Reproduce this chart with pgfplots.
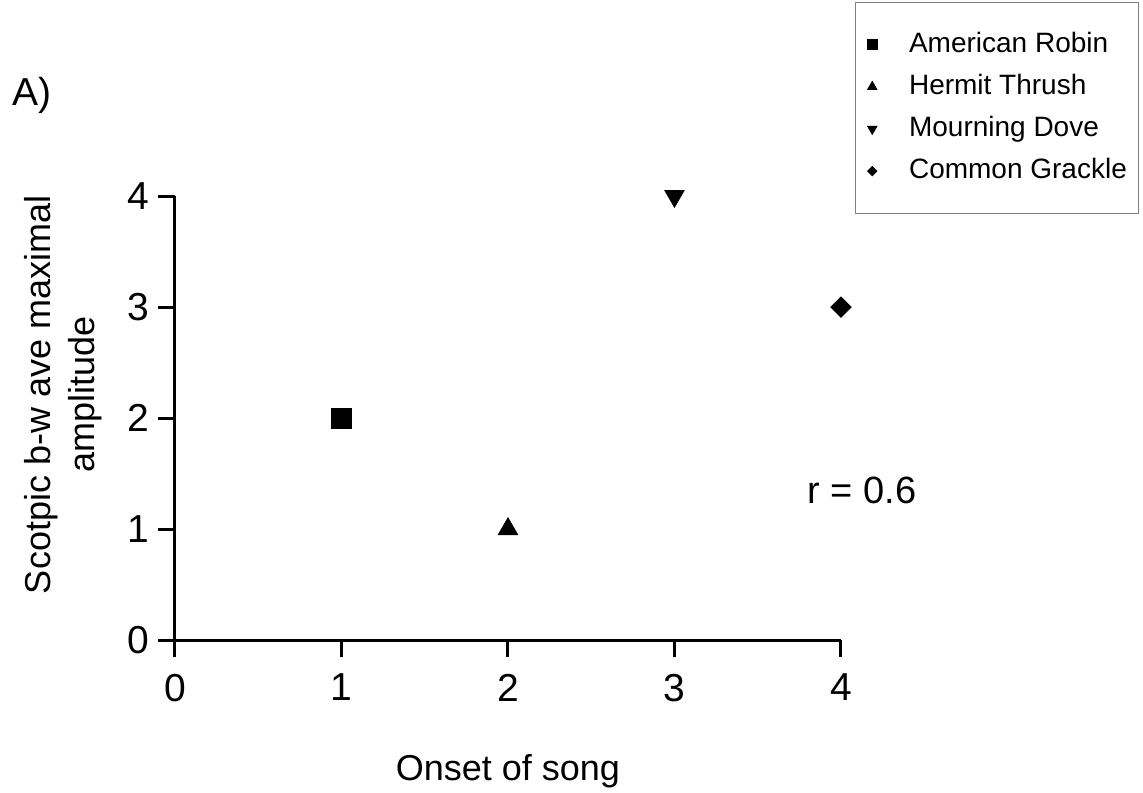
\documentclass[border=0pt]{standalone}
\usepackage{fontspec}
\setmainfont{Liberation Sans}
\usepackage{pgfplots}
\pgfplotsset{compat=1.18}
\begin{document}
\begin{tikzpicture}
\begin{axis}[
  scale only axis, width=333pt, height=222pt,
  xmin=0, xmax=4, ymin=0, ymax=4,
  axis x line*=bottom, axis y line*=left,
  axis line style={-, line width=1.5pt},
  xtick={0,1,2,3,4}, ytick={0,1,2,3,4},
  tick align=outside, major tick length=8.5pt,
  tick style={line width=1.5pt, black},
  xtick style={line width=1.5pt, black},
  ytick style={line width=1.5pt, black},
  /pgf/number format/assume math mode=true,
  ticklabel style={font=\fontsize{19.5}{22}\selectfont},
  xticklabel style={yshift=-5pt},
  yticklabel style={xshift=-1pt},
  clip=false,
  xlabel={Onset of song},
  xlabel style={at={(axis description cs:0.5,0)}, anchor=base, yshift=-70pt, font=\fontsize{18}{21}\selectfont},
  ylabel={Scotpic b-w ave maximal\\amplitude},
  ylabel style={at={(axis description cs:-0.168,0.552)}, anchor=center, align=center, font=\fontsize{18}{22}\selectfont},
  legend style={at={(1.021,1.437)}, anchor=north west, draw=gray, line width=0.5pt,
    font=\fontsize{14}{17}\selectfont,
    inner xsep=6pt, inner ysep=13.8pt,
    nodes={inner sep=0pt, text height=11pt, text depth=3.5pt},
    row sep=6.6pt, column sep=16pt},
  legend cell align=left,
  legend image code/.code={\draw[#1] plot coordinates {(0pt,0pt)};},
]
\addplot[only marks, mark=square*, mark size=5pt, black, legend image post style={mark size=2.4pt}] coordinates {(1,2)};
\addlegendentry{American Robin}
\addplot[only marks, mark=triangle*, mark size=5.6pt, black, legend image post style={mark size=2.6pt}] coordinates {(2,1)};
\addlegendentry{Hermit Thrush}
\addplot[only marks, mark=triangle*, mark size=5.6pt, mark options={rotate=180}, black, legend image post style={mark size=2.6pt}] coordinates {(3,4)};
\addlegendentry{Mourning Dove}
\addplot[only marks, mark=square*, mark size=3.6pt, mark options={rotate=45}, black, legend image post style={mark size=1.6pt}] coordinates {(4,3)};
\addlegendentry{Common Grackle}
\node[font=\fontsize{19.5}{22}\selectfont] at (axis cs:-0.859,4.91) {A)};
\node[font=\fontsize{19}{22}\selectfont] at (axis cs:4.126,1.351) {r = 0.6};
\coordinate (bbl) at (axis cs:-1.051,-1.378);
\coordinate (btr) at (axis cs:5.814,5.766);
\end{axis}
\pgfresetboundingbox
\useasboundingbox (bbl) rectangle (btr);
\end{tikzpicture}
\end{document}
